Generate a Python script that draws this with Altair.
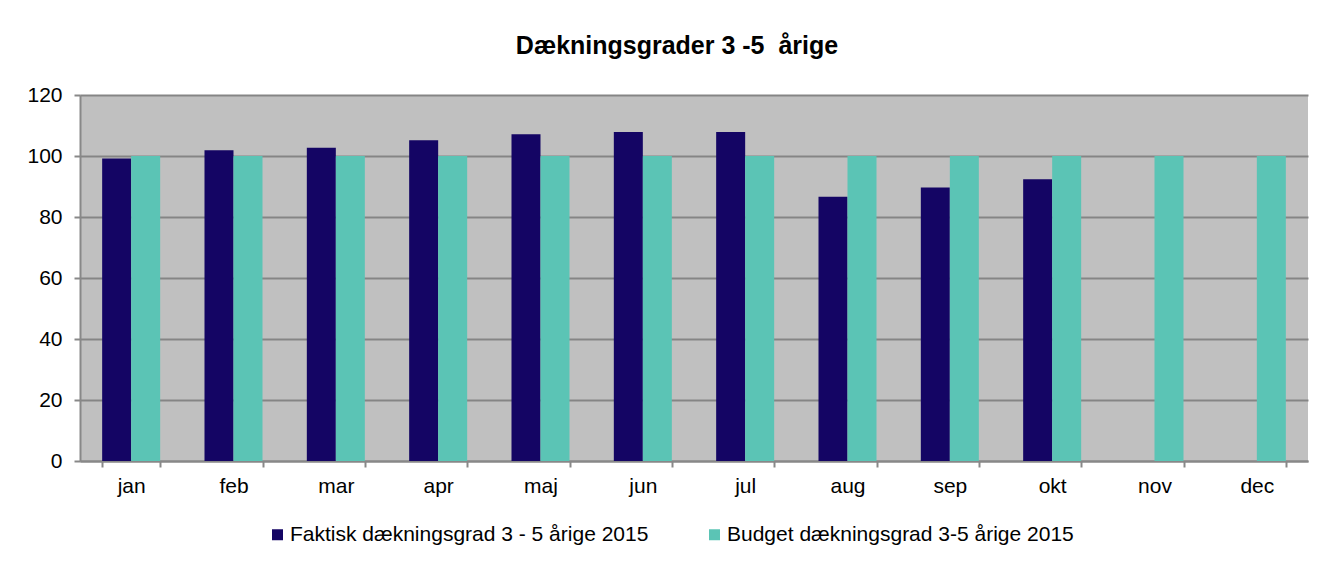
import altair as alt
import pandas as pd

months = ["jan", "feb", "mar", "apr", "maj", "jun", "jul", "aug", "sep", "okt", "nov", "dec"]
faktisk = [99.2, 101.9, 102.7, 105.2, 107.1, 107.9, 107.9, 86.6, 89.7, 92.4, None, None]
budget = [100, 100, 100, 100, 100, 100, 100, 100, 100, 100, 100, 100]
series = ["Faktisk dækningsgrad 3 - 5 årige 2015", "Budget dækningsgrad 3-5 årige 2015"]
colors = ["#140564", "#5BC4B5"]

rows = []
for i, m in enumerate(months):
    if faktisk[i] is not None:
        rows.append({"month": m, "serie": series[0], "value": faktisk[i]})
    rows.append({"month": m, "serie": series[1], "value": budget[i]})
df = pd.DataFrame(rows)

FONT = "Liberation Sans"

chart = alt.Chart(df).mark_bar(size=29).encode(
    x=alt.X("month:N", sort=months, title=None,
            scale=alt.Scale(paddingInner=0.433, paddingOuter=0.2165),
            axis=alt.Axis(labelAngle=0, tickBand="extent", grid=False,
                          domainColor="#888888", domainWidth=2, tickColor="#888888",
                          tickWidth=2, tickSize=6, labelPadding=8,
                          labelFontSize=21, labelColor="#000000", labelFont=FONT)),
    xOffset=alt.XOffset("serie:N", sort=series, scale=alt.Scale(paddingInner=0, paddingOuter=0)),
    y=alt.Y("value:Q", title=None,
            scale=alt.Scale(domain=[0, 120], nice=False),
            axis=alt.Axis(values=[0, 20, 40, 60, 80, 100, 120], grid=True,
                          gridColor="#858585", gridWidth=2,
                          domainColor="#888888", domainWidth=2, tickColor="#888888",
                          tickWidth=2, tickSize=6, labelPadding=12,
                          labelFontSize=21, labelColor="#000000", labelFont=FONT)),
    color=alt.Color("serie:N", sort=series,
                    scale=alt.Scale(domain=series, range=colors),
                    legend=alt.Legend(title=None, orient="none", direction="horizontal",
                                      legendX=187, legendY=429,
                                      symbolType="square", symbolSize=121,
                                      symbolStrokeWidth=0, columnPadding=55,
                                      labelFontSize=21, labelColor="#000000",
                                      labelFont=FONT, labelOffset=2, labelLimit=0)),
).properties(
    width=1228,
    height=366,
    title=alt.TitleParams("Dækningsgrader 3 -5\u00a0 årige", fontSize=25, fontWeight="bold",
                          font=FONT, color="#000000", anchor="middle", dx=-17, offset=25),
    padding={"left": 72, "top": 87, "right": 8, "bottom": 100},
    autosize=alt.AutoSizeParams(type="none"),
    background="#FFFFFF",
).configure_view(
    fill="#C0C0C0", stroke=None
)

chart.save("out.html", embed_options={"renderer": "svg", "actions": False})
